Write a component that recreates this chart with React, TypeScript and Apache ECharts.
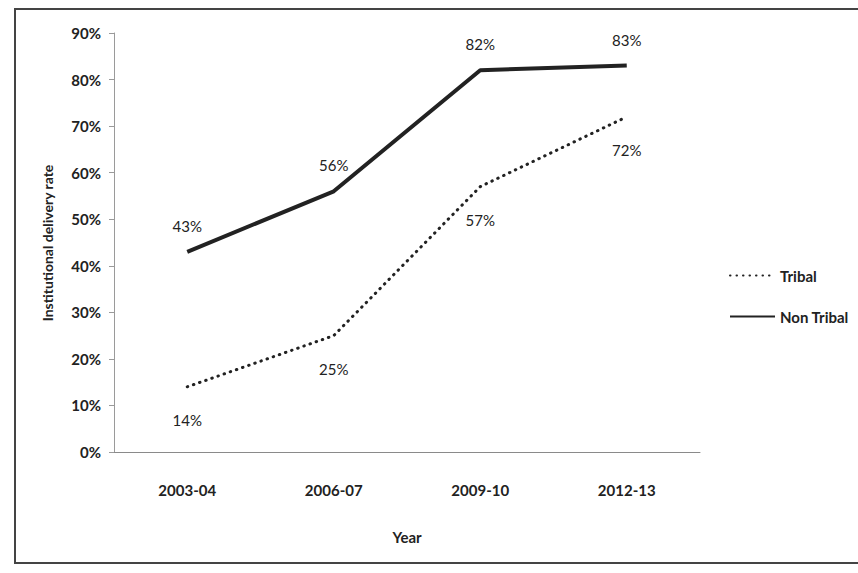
import React, { useEffect, useRef } from "react";
import * as echarts from "echarts";

const categories = ["2003-04", "2006-07", "2009-10", "2012-13"];
const tribal = [14, 25, 57, 72];
const nonTribal = [43, 56, 82, 83];
const seriesNames = ["Tribal", "Non Tribal"];
const yAxisTitle = "Institutional delivery rate";
const xAxisTitle = "Year";

const FONT = "Lato, 'Open Sans', sans-serif";

export default function App() {
  const ref = useRef<HTMLDivElement>(null);
  useEffect(() => {
    if (!ref.current) return;
    const chart = echarts.init(ref.current, undefined, { renderer: "svg" });
    chart.setOption({
      animation: false,
      backgroundColor: "#ffffff",
      grid: { left: 114, right: 158, top: 33, bottom: 121 },
      xAxis: {
        type: "category",
        data: categories,
        boundaryGap: true,
        axisLine: { lineStyle: { color: "#8a8a8a", width: 1 } },
        axisTick: { show: false },
        axisLabel: {
          margin: 30,
          color: "#222",
          fontFamily: FONT,
          fontWeight: "bold",
          fontSize: 15,
        },
      },
      yAxis: {
        type: "value",
        min: 0,
        max: 90,
        interval: 10,
        splitLine: { show: false },
        axisLine: { show: true, lineStyle: { color: "#9a9a9a", width: 1 } },
        axisTick: { show: true, inside: false, length: 5, lineStyle: { color: "#9a9a9a" } },
        axisLabel: {
          formatter: "{value}%",
          margin: 13,
          color: "#222",
          fontFamily: FONT,
          fontWeight: "bold",
          fontSize: 15,
        },
      },
      legend: {
        orient: "vertical",
        left: 724,
        top: 263,
        itemWidth: 45,
        itemHeight: 12,
        itemGap: 26,
        textStyle: { color: "#222", fontFamily: FONT, fontWeight: "bold", fontSize: 15 },
        data: seriesNames,
      },
      series: [
        {
          name: seriesNames[0],
          type: "line",
          data: tribal,
          symbol: "circle",
          symbolSize: 1,
          itemStyle: { color: "transparent" },
          lineStyle: { color: "#222", width: 3, type: [0.5, 6], cap: "round" },
          label: {
            show: true,
            position: "bottom",
            distance: 25,
            formatter: "{c}%",
            color: "#222",
            fontFamily: FONT,
            fontSize: 15,
          },
        },
        {
          name: seriesNames[1],
          type: "line",
          data: nonTribal,
          symbol: "circle",
          symbolSize: 1,
          itemStyle: { color: "transparent" },
          lineStyle: { color: "#222", width: 4 },
          label: {
            show: true,
            position: "top",
            distance: 18,
            formatter: "{c}%",
            color: "#222",
            fontFamily: FONT,
            fontSize: 15,
          },
        },
      ],
      graphic: [
        {
          type: "rect",
          shape: { x: 15, y: 9, width: 900, height: 554 },
          style: { fill: "none", stroke: "#444", lineWidth: 2 },
          silent: true,
        },
        {
          type: "text",
          x: 47,
          y: 243,
          rotation: Math.PI / 2,
          style: {
            text: yAxisTitle,
            fill: "#222",
            fontFamily: FONT,
            fontWeight: "bold",
            fontSize: 14,
            align: "center",
            verticalAlign: "middle",
          },
        },
        {
          type: "text",
          x: 407,
          y: 537,
          style: {
            text: xAxisTitle,
            fill: "#222",
            fontFamily: FONT,
            fontWeight: "bold",
            fontSize: 15,
            align: "center",
            verticalAlign: "middle",
          },
        },
      ],
    });
    return () => chart.dispose();
  }, []);
  return (
    <div
      ref={ref}
      style={{ position: "fixed", left: 0, top: 0, width: 858, height: 573 }}
    />
  );
}
